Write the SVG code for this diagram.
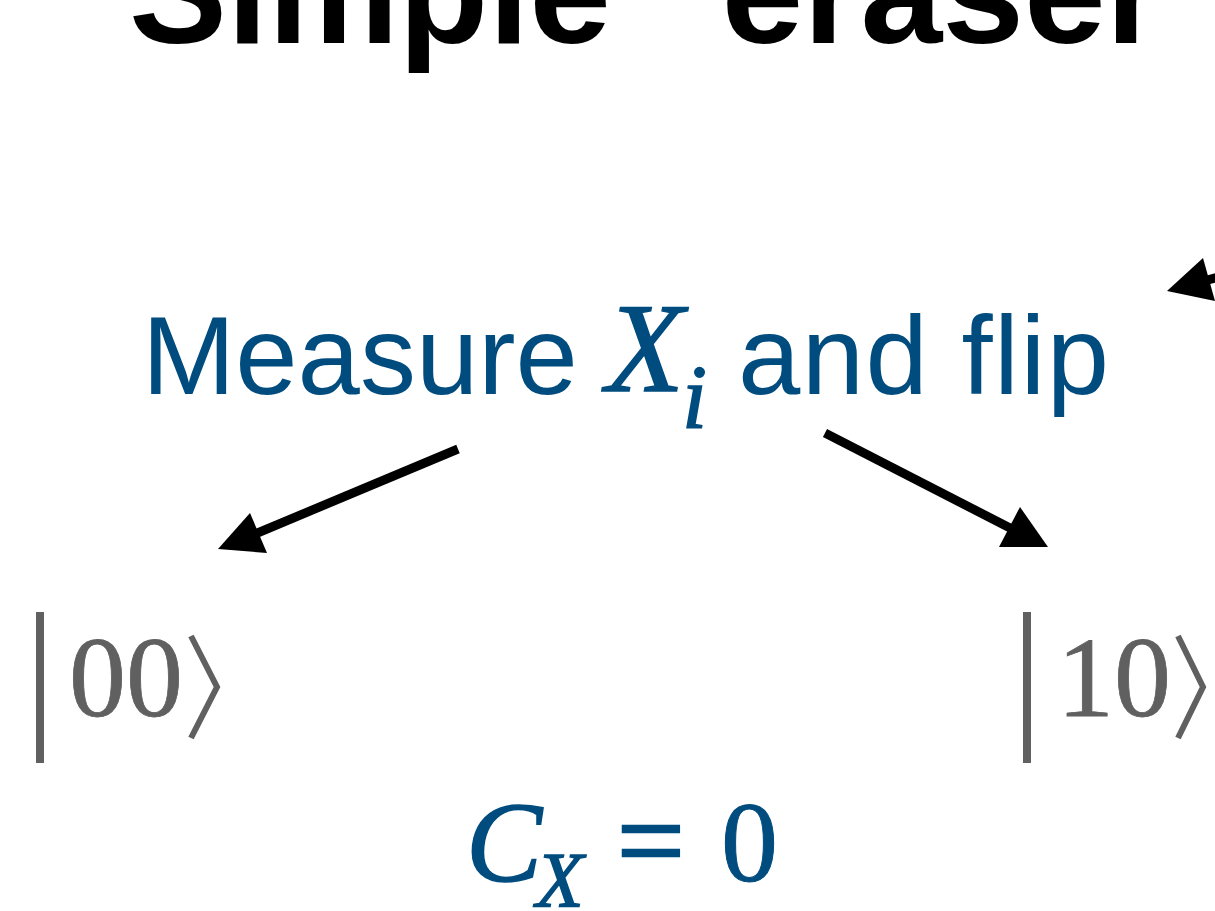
<svg xmlns="http://www.w3.org/2000/svg" width="1215" height="911" viewBox="0 0 1215 911">
<style>
.title{font-family:"Liberation Sans",Arial,sans-serif;font-weight:bold;font-size:147px;fill:#000}
.lbl{font-family:"Liberation Sans",Arial,sans-serif;font-size:112px;fill:#004c7f}
.math{font-family:"Liberation Serif","Times New Roman",serif;font-style:italic;fill:#004c7f;stroke:#004c7f;stroke-width:1.5}
.ket{font-family:"Liberation Serif","Times New Roman",serif;font-size:114px;fill:#606060;stroke:#606060;stroke-width:0.8}
.bar{fill:#606060}
.brk{fill:none;stroke:#606060;stroke-width:6}
.arr{stroke:#000;stroke-width:9;fill:none}
.head{fill:#000}
.eq{font-family:"Liberation Serif","Times New Roman",serif;fill:#004c7f}
</style>
<rect width="1215" height="911" fill="#fff"/>
<g id="title">
<text class="title" x="129" y="43">Simple "eraser"</text>
</g>
<g id="measure">
<text class="lbl" x="142" y="394">Measure</text>
<text class="math" x="606" y="391" font-size="128">X</text>
<text class="math" x="682" y="428" font-size="90">i</text>
<text class="lbl" x="738" y="394" letter-spacing="1.4">and flip</text>
</g>
<g id="ket00">
<rect class="bar" x="36" y="612" width="8" height="151"/>
<text class="ket" x="69" y="716">00</text>
<polyline class="brk" points="191,636 217,687 191,738"/>
</g>
<g id="ket10">
<rect class="bar" x="1023" y="612" width="8" height="151"/>
<text class="ket" x="1057" y="716">10</text>
<polyline class="brk" points="1178,636 1203,687 1178,738"/>
</g>
<g id="cx">
<text class="math" x="466" y="881" font-size="114">C</text>
<text class="math" x="536" y="906" font-size="78">X</text>
<text class="eq" x="617" y="881" font-size="120" stroke="#004c7f" stroke-width="2.5">=</text>
<text class="eq" x="721" y="881" font-size="114" stroke="#004c7f" stroke-width="1">0</text>
</g>
<g id="connectors">
<line class="arr" x1="458" y1="449" x2="255" y2="534"/>
<polygon class="head" points="218,549 250,513 267,553"/>
<line class="arr" x1="825" y1="433" x2="1012" y2="529"/>
<polygon class="head" points="1048,547 1020,507 999,547"/>
<line class="arr" x1="1200" y1="282" x2="1230" y2="274"/>
<polygon class="head" points="1167,291 1203,258 1215,301"/>
</g>
</svg>
